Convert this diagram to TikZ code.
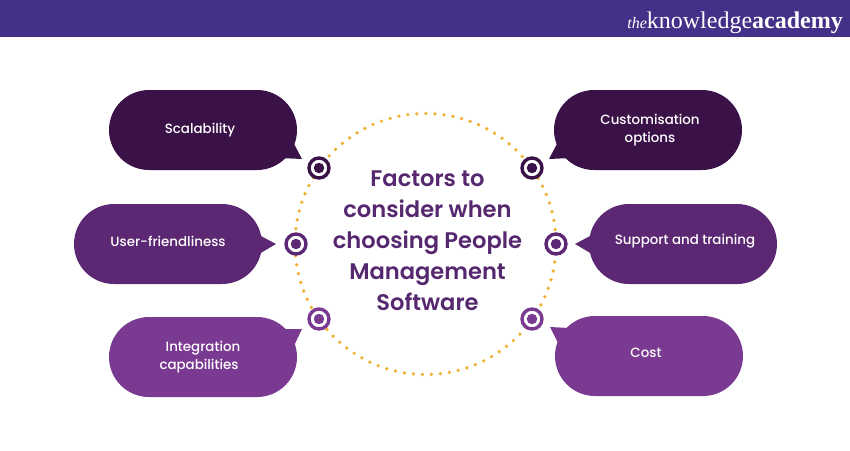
\documentclass[tikz,border=0pt]{standalone}
\usepackage{fontspec}
\setmainfont{Poppins}
\newfontfamily\medfont{Poppins Medium}
\newfontfamily\semifont{Poppins SemiBold}
\newfontfamily\logofont{Liberation Serif}
\definecolor{cdark}{HTML}{3A1248}
\definecolor{cmid}{HTML}{5C2873}
\definecolor{clight}{HTML}{7B3A91}
\definecolor{chead}{HTML}{433088}
\definecolor{ctitle}{HTML}{56286F}
\definecolor{cdot}{HTML}{F0B030}
\tikzset{
  bubble/.style={rectangle,rounded corners=40pt,minimum width=188pt,minimum height=80pt,inner sep=0pt,draw=none},
  bubbletext/.style={text=white,font=\medfont\fontsize{13.4}{18}\selectfont,align=center,inner sep=0pt},
  titletext/.style={text=ctitle,font=\semifont\fontsize{22.6}{31}\selectfont,align=center,inner sep=0pt},
  ring/.style={circle,draw=#1,fill=white,line width=3.4pt,minimum size=20pt,inner sep=0pt},
  core/.style={circle,fill=#1,minimum size=10.5pt,inner sep=0pt},
}
\begin{document}
\begin{tikzpicture}[x=1pt,y=-1pt]
\useasboundingbox (0,0) rectangle (850,450);
\fill[chead] (0,0) rectangle (850,37);
\node[anchor=base east,text=white,inner sep=0pt,font=\logofont\fontsize{24}{26}\selectfont] (logo) at (843,28) {{\itshape\fontsize{16}{20}\selectfont the}knowledge\textbf{academy}};
% dotted circle
\draw[cdot,line width=3.7pt,line cap=round,dash pattern=on 0pt off 9.05pt] (425.5,244) circle[radius=130.5];
% bubbles
\node[bubble,fill=cdark] (b1) at (203,130) {};
\fill[cdark] (292,140) -- (302,159) -- (280,158) -- cycle;
\node[bubble,fill=cmid] (b2) at (168,244) {};
\fill[cmid] (259,235) -- (276,244) -- (259,254) -- cycle;
\node[bubble,fill=clight] (b3) at (203,357) {};
\fill[clight] (283,329) -- (302,329) -- (292,350) -- cycle;
\node[bubble,fill=cdark] (b4) at (648,130) {};
\fill[cdark] (559,140) -- (549,159) -- (571,158) -- cycle;
\node[bubble,fill=cmid] (b5) at (683,244) {};
\fill[cmid] (592,235) -- (575,244) -- (592,254) -- cycle;
\node[bubble,fill=clight] (b6) at (649,356) {};
\fill[clight] (569,328) -- (550,327) -- (560,347) -- cycle;
% labels
\node[bubbletext] (t1) at (200,130) {Scalability};
\node[bubbletext] (t2) at (168,241) {User-friendliness};
\node[bubbletext] (t3) at (199,357) {\hspace*{8pt}Integration\\capabilities};
\node[bubbletext] (t4) at (650,130) {Customisation\\options};
\node[bubbletext] (t5) at (685,241) {Support and training};
\node[bubbletext] (t6) at (646,353) {Cost};
% targets
\foreach \n/\x/\y/\c in {r1/319/168/cdark,r2/296/244/cmid,r3/319/319/clight,r4/532/168/cdark,r5/556/244/cmid,r6/532/319/clight}{
  \node[ring=\c] (\n) at (\x,\y) {};
  \node[core=\c] (\n c) at (\x,\y) {};
}
% title
\node[titletext] (title) at (427.5,241) {Factors to\\consider when\\choosing People\\Management\\Software};
\end{tikzpicture}
\end{document}
